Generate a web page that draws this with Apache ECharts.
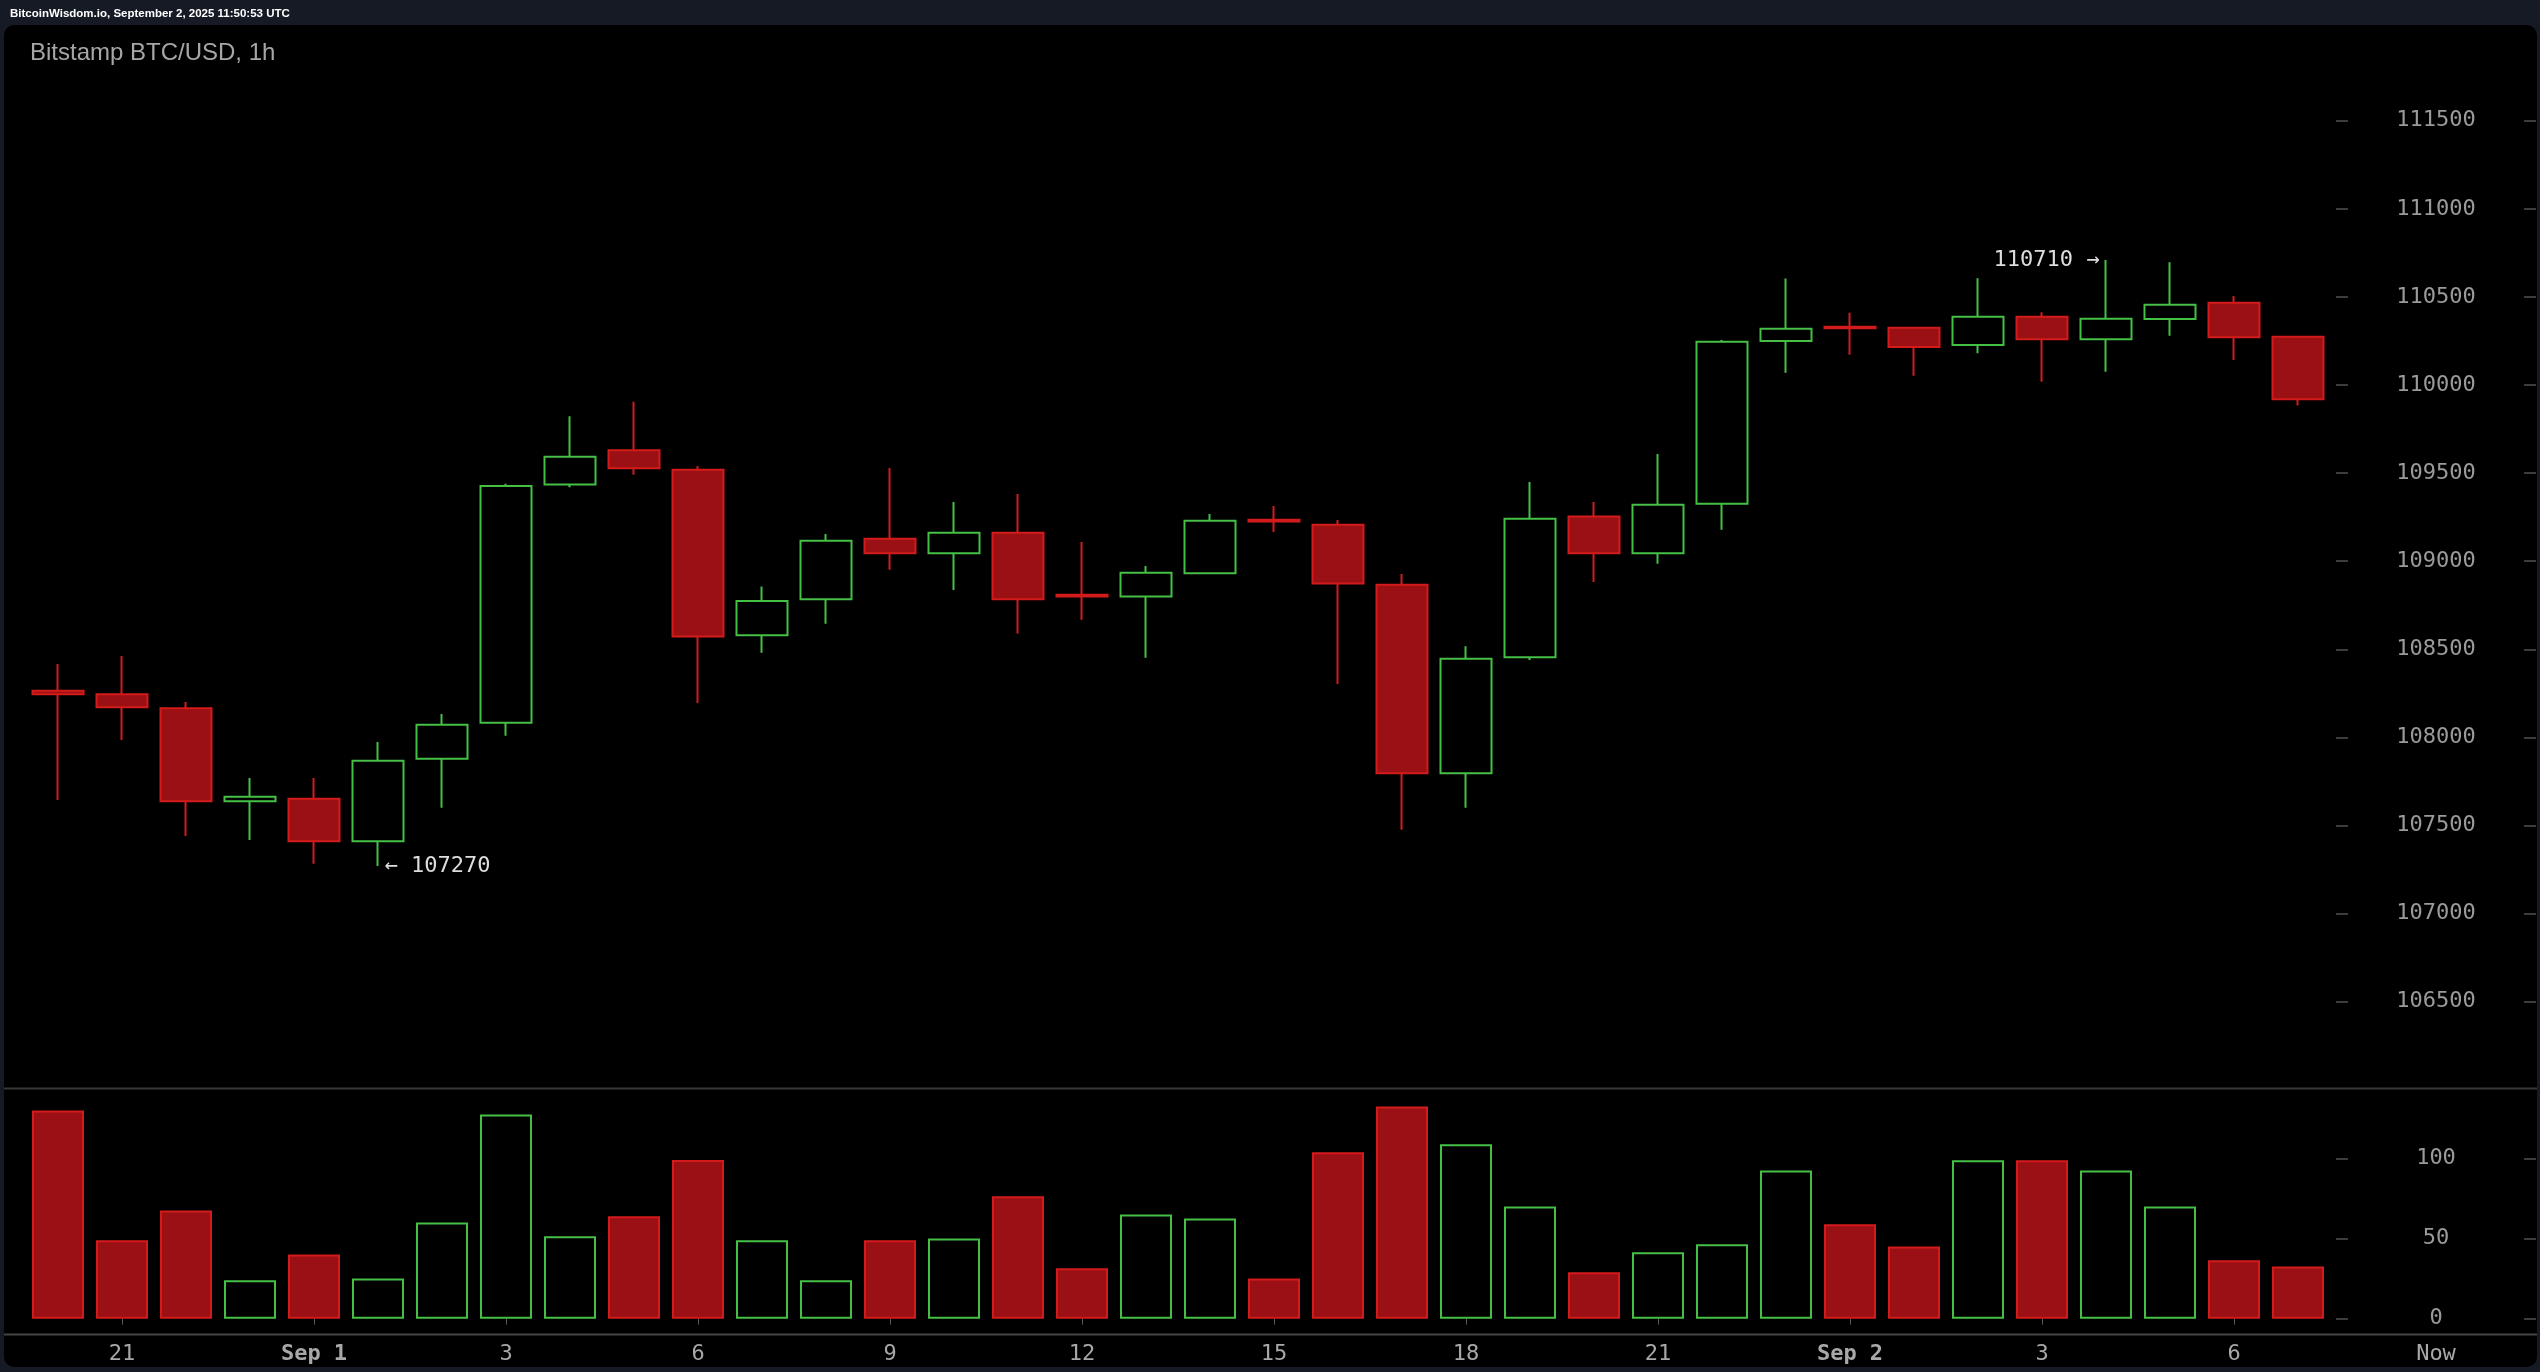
<!DOCTYPE html>
<html>
<head>
<meta charset="utf-8">
<script src="https://cdn.jsdelivr.net/npm/echarts@6/dist/echarts.min.js"></script>
<style>
html,body{margin:0;padding:0;background:#161a25;overflow:hidden;}
#chart{width:2540px;height:1372px;}
</style>
</head>
<body>
<div id="chart"></div>
<script>
// ---- data ----
const times = [
  '08-31 20:00','08-31 21:00','08-31 22:00','08-31 23:00',
  '09-01 00:00','09-01 01:00','09-01 02:00','09-01 03:00','09-01 04:00','09-01 05:00',
  '09-01 06:00','09-01 07:00','09-01 08:00','09-01 09:00','09-01 10:00','09-01 11:00',
  '09-01 12:00','09-01 13:00','09-01 14:00','09-01 15:00','09-01 16:00','09-01 17:00',
  '09-01 18:00','09-01 19:00','09-01 20:00','09-01 21:00','09-01 22:00','09-01 23:00',
  '09-02 00:00','09-02 01:00','09-02 02:00','09-02 03:00','09-02 04:00','09-02 05:00',
  '09-02 06:00','09-02 07:00','09-02 08:00','09-02 09:00'
];
const tickLabels = [
  '','21','','','Sep 1','','','3','','','6','','','9','','','12','','','15','','',
  '18','','','21','','','Sep 2','','','3','','','6','','','Now'
];
const opens  = [108265,108245,108165,107637,107652,107410,107879,108083,109436,109629,109519,108580,
                108784,109128,109045,109162,108810,108800,108931,109235,109207,108867,107796,108455,
                109253,109045,109326,110250,110330,110325,110227,110388,110259,110375,110467,110274];
const closes = [108245,108171,107637,107663,107410,107868,108072,109427,109593,109528,108572,108774,
                109116,109045,109162,108784,108800,108935,109230,109225,108874,107796,108447,109241,
                109045,109321,110245,110319,110322,110215,110388,110259,110376,110456,110271,109919];
const lows   = [107645,107985,107440,107418,107283,107270,107601,108010,109420,109491,108195,108480,
                108645,108952,108837,108589,108668,108452,108931,109166,108303,107476,107601,108439,
                108882,108986,109179,110070,110171,110053,110180,110019,110075,110280,110142,109883];
const highs  = [108417,108462,108201,107769,107769,107974,108133,109440,109822,109905,109540,108857,
                109154,109529,109336,109381,109109,108973,109268,109313,109234,108927,108517,109449,
                109336,109608,110255,110604,110410,110330,110606,110413,110710,110696,110505,110274];
const volumes = [130.2,49.0,67.7,24.0,40.2,25.2,60.2,127.7,51.5,64.0,99.2,49.0,
                 24.0,49.0,50.2,76.5,31.5,65.2,62.7,25.2,104.0,132.7,109.0,70.2,
                 29.0,41.5,46.5,92.7,59.0,45.2,99.0,99.0,92.7,70.2,36.5,32.7];

// ---- styles ----
const GREEN = '#45c045';
const RED_LINE = '#d31b1b';
const RED_FILL = '#9b1014';
const MONO = '"DejaVu Sans Mono", monospace';

const candleData = opens.map((o, i) => [o, closes[i], lows[i], highs[i]]);
const volumeData = volumes.map((v, i) => ({
  value: v,
  itemStyle: closes[i] >= opens[i]
    ? { color: '#000', borderColor: GREEN, borderWidth: 2 }
    : { color: RED_FILL, borderColor: RED_LINE, borderWidth: 2 }
}));

let lowIdx = 0, highIdx = 0;
lows.forEach((v, i) => { if (v < lows[lowIdx]) lowIdx = i; });
highs.forEach((v, i) => { if (v > highs[highIdx]) highIdx = i; });

const GRID_L = 26, GRID_R = 82;
const tickStyle = { color: '#3c3c3c', width: 2 };
const plainNum = (v) => String(v);

function priceAxis(offset, showLabel) {
  return {
    type: 'value', gridIndex: 0, position: 'right', offset: offset,
    min: 106500, max: 111500, interval: 500, scale: true,
    splitLine: { show: false }, axisLine: { show: false },
    axisTick: { show: true, length: 12, lineStyle: tickStyle },
    axisLabel: { show: showLabel, margin: 100, align: 'center', color: '#9a9a9a',
                 fontFamily: MONO, fontSize: 22, formatter: plainNum }
  };
}
function volAxis(offset, showLabel) {
  return {
    type: 'value', gridIndex: 1, position: 'right', offset: offset,
    min: 0, max: 100, interval: 50,
    splitLine: { show: false }, axisLine: { show: false },
    axisTick: { show: true, length: 12, lineStyle: tickStyle },
    axisLabel: { show: showLabel, margin: 100, align: 'center', color: '#9a9a9a',
                 fontFamily: MONO, fontSize: 22, formatter: plainNum }
  };
}

const chart = echarts.init(document.getElementById('chart'), null, { renderer: 'canvas' });
chart.setOption({
  backgroundColor: '#161a25',
  animation: false,
  title: {
    text: 'Bitstamp BTC/USD, 1h',
    left: 30, top: 41, padding: 0,
    textStyle: { color: '#a6a6a6', fontSize: 24, fontWeight: 'normal',
                 fontFamily: '"Liberation Sans", Arial, sans-serif' }
  },
  graphic: [
    { type: 'rect', z: -10, silent: true,
      shape: { x: 4, y: 25, width: 2533, height: 1342, r: 10 },
      style: { fill: '#000' } },
    { type: 'line', z: -5, silent: true,
      shape: { x1: 4, y1: 1088.5, x2: 2537, y2: 1088.5 },
      style: { stroke: '#383838', lineWidth: 2 } },
    { type: 'line', z: -5, silent: true,
      shape: { x1: 4, y1: 1334.5, x2: 2537, y2: 1334.5 },
      style: { stroke: '#444', lineWidth: 2 } },
    { type: 'text', z: 5, silent: true, left: 10, top: 8,
      style: { text: 'BitcoinWisdom.io, September 2, 2025 11:50:53 UTC', fill: '#ffffff',
               font: 'bold 11.5px "Liberation Sans", Arial, sans-serif' } }
  ],
  grid: [
    { left: GRID_L, right: GRID_R, top: 120.7, bottom: 370.3, outerBoundsMode: 'none', containLabel: false },
    { left: GRID_L, right: GRID_R, top: 1158.7, bottom: 53.3, outerBoundsMode: 'none', containLabel: false }
  ],
  xAxis: [
    { type: 'category', gridIndex: 0, data: times, boundaryGap: true,
      axisLine: { show: false }, axisTick: { show: false }, axisLabel: { show: false },
      splitLine: { show: false } },
    { type: 'category', gridIndex: 1, data: times, boundaryGap: true, offset: 15.5,
      axisLine: { show: false },
      axisTick: { show: true, alignWithLabel: true, length: 6,
                  interval: (i) => tickLabels[i] !== '' && tickLabels[i] !== 'Now',
                  lineStyle: { color: '#555', width: 1 } },
      axisLabel: {
        interval: (i) => tickLabels[i] !== '',
        margin: 9, color: '#a8a8a8', fontFamily: MONO, fontSize: 22,
        formatter: (v, i) => {
          const t = tickLabels[i];
          if (t.indexOf('Sep') === 0) return '{b|' + t + '}';
          if (t === 'Now') return '{n|' + t + '}';
          return t;
        },
        rich: {
          b: { fontWeight: 'bold', color: '#a8a8a8', fontFamily: MONO, fontSize: 22 },
          n: { color: '#a8a8a8', fontFamily: MONO, fontSize: 22, padding: [0, 0, 0, 20] }
        }
      },
      splitLine: { show: false } }
  ],
  yAxis: [
    priceAxis(-122, true),
    priceAxis(66, false),
    volAxis(-122, true),
    volAxis(66, false)
  ],
  series: [
    {
      type: 'candlestick', xAxisIndex: 0, yAxisIndex: 0,
      data: candleData, barWidth: 52,
      itemStyle: { color: '#000', color0: RED_FILL, borderColor: GREEN, borderColor0: RED_LINE,
                   borderWidth: 2 },
      markPoint: {
        symbol: 'circle', symbolSize: 1,
        itemStyle: { color: 'rgba(0,0,0,0)' },
        label: { show: true, color: '#dddddd', fontFamily: MONO, fontSize: 22 },
        data: [
          { coord: [lowIdx, lows[lowIdx]],
            label: { position: 'right', distance: 6, formatter: '\u2190 ' + lows[lowIdx] } },
          { coord: [highIdx, highs[highIdx]],
            label: { position: 'left', distance: 6, formatter: highs[highIdx] + ' \u2192' } }
        ]
      }
    },
    {
      type: 'bar', xAxisIndex: 1, yAxisIndex: 2,
      data: volumeData, barWidth: 52, clip: false
    }
  ]
});
</script>
</body>
</html>
